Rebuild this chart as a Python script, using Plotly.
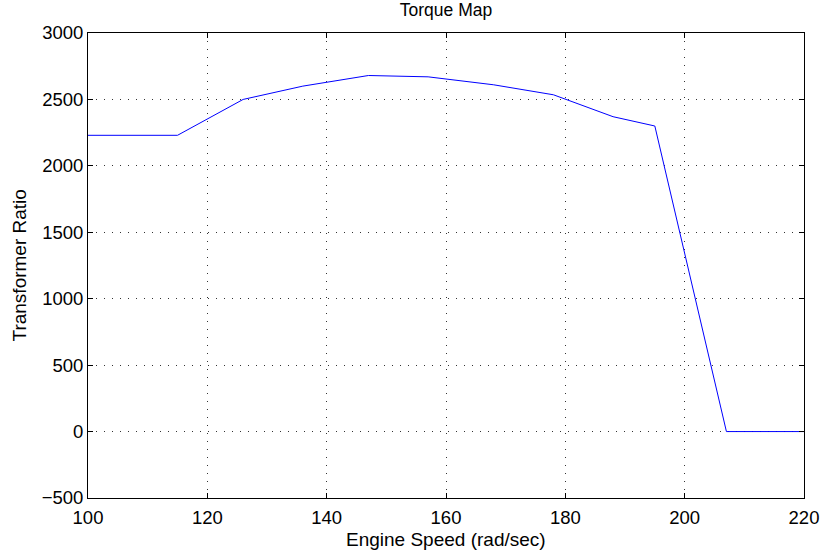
import plotly.graph_objects as go

speed = [100, 115, 126, 136, 147, 157, 168, 178, 188, 195, 207, 220]
torque = [2230, 2230, 2500, 2600, 2680, 2670, 2610, 2535, 2370, 2300, 0, 0]

x_ticks = [100, 120, 140, 160, 180, 200, 220]
y_ticks = [-500, 0, 500, 1000, 1500, 2000, 2500, 3000]
y_labels = ["\u2212500", "0", "500", "1000", "1500", "2000", "2500", "3000"]

fig = go.Figure()
fig.add_trace(go.Scatter(x=speed, y=torque, mode="lines",
                         line=dict(color="#0000ff", width=1), showlegend=False))

font = "Liberation Sans, Arial, Helvetica, sans-serif"
axis_common = dict(
    showline=True, linecolor="black", linewidth=1, mirror="ticks",
    ticks="inside", ticklen=5, tickcolor="black",
    showgrid=True, gridcolor="rgba(0,0,0,0.8)", gridwidth=1, griddash="1px,7px",
    zeroline=False, automargin=False,
    tickfont=dict(family=font, size=18.5, color="black"),
)
fig.update_xaxes(range=[100, 220], tickvals=x_ticks, ticklabelstandoff=3, **axis_common)
fig.update_yaxes(range=[-500, 3000], tickvals=y_ticks, ticktext=y_labels, **axis_common)

W, H = 822, 554
L, R, T, B = 88, 18, 33, 56

fig.add_annotation(text="Engine Speed (rad/sec)", xref="paper", yref="paper", x=0.5, y=0,
                   xanchor="center", yanchor="middle", yshift=-41, showarrow=False,
                   font=dict(family=font, size=19, color="black"))
fig.add_annotation(text="Transformer Ratio", xref="paper", yref="paper", x=0, y=0.5,
                   xanchor="center", yanchor="middle", xshift=-69, textangle=-90, showarrow=False,
                   font=dict(family=font, size=19, color="black"))

fig.update_layout(
    width=W, height=H,
    margin=dict(l=L, r=R, t=T, b=B, autoexpand=False),
    paper_bgcolor="white", plot_bgcolor="white",
    title=dict(text="Torque Map", x=0.5, xref="paper", xanchor="center",
               y=1 - 10 / H, yref="container", yanchor="middle",
               font=dict(family=font, size=17.5, color="black")),
)

fig.write_html("out.html", config={"displayModeBar": False},
               post_script="document.body.style.margin='0';document.body.style.overflow='hidden';")
